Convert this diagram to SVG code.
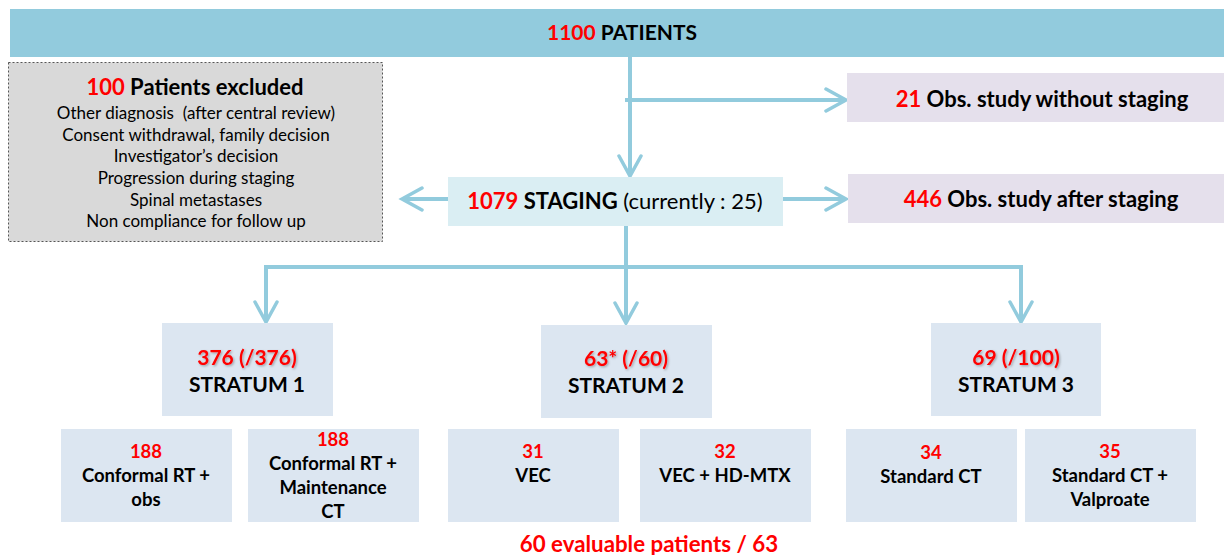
<svg xmlns="http://www.w3.org/2000/svg" width="1224" height="555" viewBox="0 0 1224 555">
  <defs>
    <marker id="chev" markerUnits="userSpaceOnUse" markerWidth="30" markerHeight="30" refX="22" refY="12" orient="auto" viewBox="0 0 30 24">
      <path d="M2 1 L22 12 L2 23" fill="none" stroke="#92CBDD" stroke-width="3.5" stroke-linecap="round" stroke-linejoin="miter"/>
    </marker>
    <!-- soft shadow behind the stratum counts -->
    <filter id="shade" x="-10%" y="-30%" width="130%" height="160%">
      <feDropShadow dx="1.2" dy="1.2" stdDeviation="0.8" flood-color="#000" flood-opacity="0.3"/>
    </filter>
    <style>
      text { font-family: Lato, "Liberation Sans", sans-serif; fill: #000; }
      .b { font-weight: 700; }
      .r { fill: #FF0000; }
      .title { font-size: 21px; font-weight: 700; }
      .head { font-size: 22px; font-weight: 700; }
      .list { font-size: 17px; }
      .strat { font-size: 21px; font-weight: 700; }
      .count { filter: url(#shade); }
      .sub { font-size: 18.5px; font-weight: 700; }
      .conn { fill: none; stroke: #92CBDD; stroke-width: 4; }
      .arr { marker-end: url(#chev); }
      .sbox { fill: #DCE6F1; }
      .obs { fill: #E5E0EC; }
    </style>
  </defs>

  <!-- connectors -->
  <g id="connectors">
    <path class="conn arr" d="M630 57 V176"/>
    <path class="conn arr" d="M625 100 H846"/>
    <path class="conn arr" d="M448 199 H402"/>
    <path class="conn arr" d="M783 199 H846"/>
    <path class="conn" d="M626 226 V267"/>
    <path class="conn" d="M266 267 H1021"/>
    <path class="conn arr" d="M266 265 V322"/>
    <path class="conn arr" d="M626 267 V323"/>
    <path class="conn arr" d="M1021 265 V322"/>
  </g>

  <!-- enrolment -->
  <g id="patients">
    <rect x="10" y="9" width="1214" height="48" fill="#92CBDD"/>
    <text class="title" x="622" y="40" text-anchor="middle"><tspan class="r">1100</tspan> PATIENTS</text>
  </g>

  <!-- exclusions -->
  <g id="excluded">
    <rect x="8.5" y="62.5" width="374" height="179" fill="#D9D9D9" stroke="#555" stroke-width="1" stroke-dasharray="2 2"/>
    <text class="head" x="195" y="95" text-anchor="middle"><tspan class="r">100</tspan> Patients excluded</text>
    <g class="list" text-anchor="middle">
      <text class="list" x="196" y="119">Other diagnosis &#160;(after central review)</text>
      <text class="list" x="196" y="141">Consent withdrawal, family decision</text>
      <text class="list" x="196" y="162">Investigator’s decision</text>
      <text class="list" x="196" y="184">Progression during staging</text>
      <text class="list" x="196" y="206">Spinal metastases</text>
      <text class="list" x="196" y="227">Non compliance for follow up</text>
    </g>
  </g>

  <g id="obs-without">
    <rect class="obs" x="847" y="73" width="377" height="49"/>
    <text class="head" x="1042" y="107" text-anchor="middle"><tspan class="r">21</tspan> Obs. study without staging</text>
  </g>

  <g id="staging">
    <rect x="448" y="177" width="335" height="49" fill="#DAEEF3"/>
    <text x="615" y="209" text-anchor="middle" style="font-size:22px"><tspan class="b r">1079</tspan><tspan class="b"> STAGING</tspan> (currently : 25)</text>
  </g>

  <g id="obs-after">
    <rect class="obs" x="848" y="174" width="376" height="49"/>
    <text class="head" x="1041" y="207" text-anchor="middle"><tspan class="r">446</tspan> Obs. study after staging</text>
  </g>

  <!-- strata -->
  <g id="stratum1">
    <rect class="sbox" x="162" y="323" width="171" height="93"/>
    <text class="strat r count" x="247" y="365" text-anchor="middle">376 (/376)</text>
    <text class="strat" x="247" y="392" text-anchor="middle">STRATUM 1</text>
  </g>
  <g id="stratum2">
    <rect class="sbox" x="541" y="325" width="171" height="93"/>
    <text class="strat r count" x="626" y="366" text-anchor="middle">63* (/60)</text>
    <text class="strat" x="626" y="393" text-anchor="middle">STRATUM 2</text>
  </g>
  <g id="stratum3">
    <rect class="sbox" x="931" y="323" width="170" height="93"/>
    <text class="strat r count" x="1016" y="365" text-anchor="middle">69 (/100)</text>
    <text class="strat" x="1016" y="392" text-anchor="middle">STRATUM 3</text>
  </g>

  <!-- treatment arms -->
  <g id="arm-rt-obs">
    <rect class="sbox" x="61" y="429" width="171" height="93"/>
    <text class="sub r" x="146" y="458" text-anchor="middle">188</text>
    <text class="sub" x="146" y="482" text-anchor="middle">Conformal RT +</text>
    <text class="sub" x="146" y="506" text-anchor="middle">obs</text>
  </g>
  <g id="arm-rt-ct">
    <rect class="sbox" x="248" y="429" width="171" height="93"/>
    <text class="sub r" x="333" y="446" text-anchor="middle">188</text>
    <text class="sub" x="333" y="470" text-anchor="middle">Conformal RT +</text>
    <text class="sub" x="333" y="494" text-anchor="middle">Maintenance</text>
    <text class="sub" x="333" y="518" text-anchor="middle">CT</text>
  </g>
  <g id="arm-vec">
    <rect class="sbox" x="448" y="429" width="171" height="93"/>
    <text class="sub r" x="533" y="458" text-anchor="middle">31</text>
    <text class="sub" x="533" y="482" text-anchor="middle">VEC</text>
  </g>
  <g id="arm-vec-mtx">
    <rect class="sbox" x="640" y="429" width="171" height="93"/>
    <text class="sub r" x="725" y="458" text-anchor="middle">32</text>
    <text class="sub" x="725" y="482" text-anchor="middle">VEC + HD-MTX</text>
  </g>
  <g id="arm-std-ct">
    <rect class="sbox" x="846" y="429" width="171" height="93"/>
    <text class="sub r" x="931" y="459" text-anchor="middle">34</text>
    <text class="sub" x="931" y="483" text-anchor="middle">Standard CT</text>
  </g>
  <g id="arm-std-ct-vpa">
    <rect class="sbox" x="1025" y="429" width="171" height="93"/>
    <text class="sub r" x="1110" y="458" text-anchor="middle">35</text>
    <text class="sub" x="1110" y="482" text-anchor="middle">Standard CT +</text>
    <text class="sub" x="1110" y="506" text-anchor="middle">Valproate</text>
  </g>

  <g id="evaluable">
    <text class="r" x="649" y="552" text-anchor="middle" style="font-size:22.3px;font-weight:700">60 evaluable patients / 63</text>
  </g>
</svg>
